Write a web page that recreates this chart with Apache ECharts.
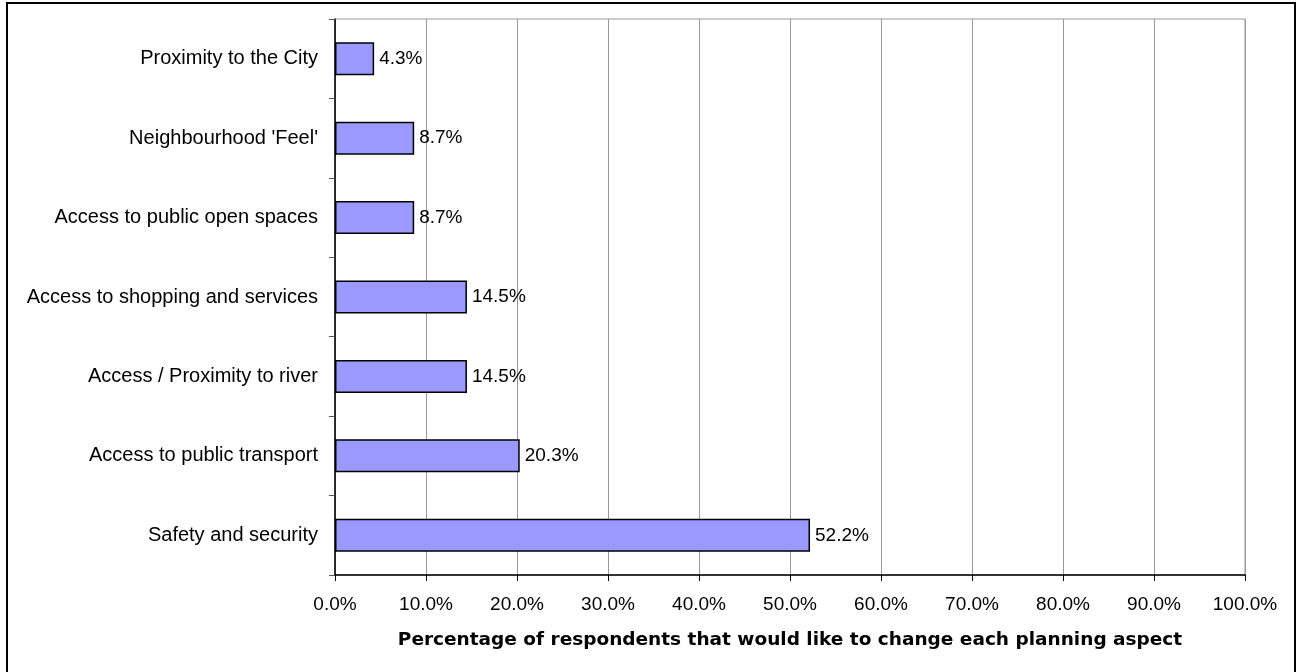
<!DOCTYPE html>
<html>
<head>
<meta charset="utf-8">
<script src="https://cdn.jsdelivr.net/npm/echarts@6/dist/echarts.min.js"></script>
<style>
html,body{margin:0;padding:0;background:#fff;}
#chart{width:1305px;height:672px;}
</style>
</head>
<body>
<div id="chart"></div>
<script>
const categories = [
  "Safety and security",
  "Access to public transport",
  "Access / Proximity to river",
  "Access to shopping and services",
  "Access to public open spaces",
  "Neighbourhood 'Feel'",
  "Proximity to the City"
];
const values = [52.2, 20.3, 14.5, 14.5, 8.7, 8.7, 4.3];
const axisTitle = "Percentage of respondents that would like to change each planning aspect";

const chart = echarts.init(document.getElementById('chart'), null, {renderer: 'canvas'});
const font = 'Liberation Sans, Arial, sans-serif';
chart.setOption({
  animation: false,
  backgroundColor: '#fff',
  graphic: [{
    type: 'rect',
    shape: {x: 7, y: 3, width: 1288, height: 720},
    style: {fill: 'none', stroke: '#000', lineWidth: 2},
    silent: true
  }],
  grid: {
    left: 335, right: 60, top: 19, bottom: 97,
    show: true, borderColor: '#999', borderWidth: 1, backgroundColor: 'transparent'
  },
  xAxis: {
    type: 'value', min: 0, max: 100, interval: 10,
    name: axisTitle,
    nameLocation: 'middle',
    nameGap: 56,
    nameTextStyle: {fontFamily: 'DejaVu Sans, sans-serif', fontSize: 18.5, fontWeight: 'bold', color: '#000'},
    axisLine: {show: true, lineStyle: {color: '#000', width: 1.5}},
    axisTick: {show: true, length: 6, lineStyle: {color: '#000'}},
    axisLabel: {
      formatter: v => v.toFixed(1) + '%',
      fontFamily: font, fontSize: 19, color: '#000', margin: 20
    },
    splitLine: {show: true, lineStyle: {color: '#999', width: 1}}
  },
  yAxis: {
    type: 'category', data: categories,
    axisLine: {show: true, lineStyle: {color: '#000', width: 1.5}},
    axisTick: {show: true, length: 6, lineStyle: {color: '#555'}},
    axisLabel: {fontFamily: font, fontSize: 20, color: '#000', margin: 17},
    splitLine: {show: false}
  },
  series: [{
    type: 'bar',
    data: values,
    barWidth: 33,
    itemStyle: {color: '#9999FF', borderColor: '#000', borderWidth: 1.5},
    label: {
      show: true, position: 'right', distance: 5,
      formatter: p => p.value.toFixed(1) + '%',
      fontFamily: font, fontSize: 19, color: '#000'
    }
  }]
});
</script>
</body>
</html>
